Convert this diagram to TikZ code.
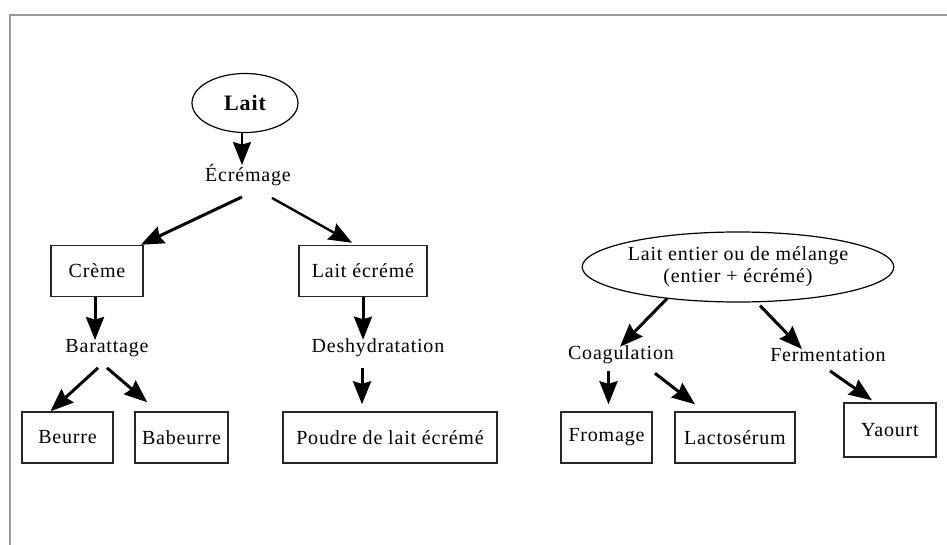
\documentclass[tikz,border=0pt]{standalone}
\usepackage{fontspec}
\setmainfont{Liberation Serif}[LetterSpace=4]
\usetikzlibrary{shapes.geometric,arrows.meta}
\begin{document}
\begin{tikzpicture}[x=1pt,y=-1pt,
  every node/.style={font=\fontsize{20}{24}\selectfont},
  boxn/.style={draw,line width=1.4pt,draw=black!85,inner sep=0pt,minimum height=51pt},
  lbl/.style={inner sep=1pt},
  ovl/.style={draw,ellipse,line width=1.2pt,inner sep=0pt},
  arr/.style={line width=3pt,-{Stealth[length=23pt,width=18pt,inset=2.5pt]}}]
\useasboundingbox (0,0) rectangle (947,545);
\draw[line width=2pt,gray!80] (10,545) -- (10,15) -- (947,15);
% left tree
\node[ovl,minimum width=106pt,minimum height=59pt,font=\fontsize{22}{26}\selectfont\bfseries] (lait) at (245,103) {Lait};
\node[lbl] (ecr) at (248,175) {Écrémage};
\node[boxn,minimum width=92pt] (creme) at (97,271) {Crème};
\node[boxn,minimum width=128pt] (laite) at (363,271) {Lait écrémé};
\node[lbl] (bar) at (107,348) {Barattage};
\node[lbl] (deshy) at (378,348) {Deshydratation};
\node[boxn,minimum width=91pt] (beurre) at (67.5,437.5) {Beurre};
\node[boxn,minimum width=93pt] (babeurre) at (181.5,437.5) {Babeurre};
\node[boxn,minimum width=214pt] (poudre) at (390,437.5) {Poudre de lait écrémé};
% right tree
\node[ovl,minimum width=270pt,minimum height=70pt,align=center,font=\fontsize{20}{22}\selectfont] (ent) at (738,267) {Lait entier ou de mélange\\(entier + écrémé)};
\node[lbl] (coag) at (621,355) {Coagulation};
\node[lbl] (ferm) at (828,355) {Fermentation};
\node[boxn,minimum width=91pt] (fromage) at (606.5,437.5) {Fromage};
\node[boxn,minimum width=120pt] (lacto) at (735,437.5) {Lactosérum};
\node[boxn,minimum width=92pt,minimum height=54pt] (yaourt) at (890,430) {Yaourt};
% arrows
\draw[arr,line width=2.4pt] ([xshift=-3pt]lait.south) -- ([xshift=-6pt,yshift=-2pt]ecr.north);
\draw[arr] ([xshift=-6pt,yshift=-10pt]ecr.south) -- ([xshift=-3pt]creme.north east);
\draw[arr,line width=2.4pt] ([xshift=24pt,yshift=-11pt]ecr.south) -- ([xshift=-11pt,yshift=2pt]laite.north);
\draw[arr] ([xshift=-2pt]creme.south) -- ([xshift=-12pt,yshift=-2pt]bar.north);
\draw[arr] ([xshift=-9pt,yshift=-10pt]bar.south) -- ([xshift=-17pt]beurre.north);
\draw[arr] ([xshift=0pt,yshift=-10pt]bar.south) -- ([xshift=13pt,yshift=9pt]babeurre.north west);
\draw[arr] (laite.south) -- ([xshift=-15pt,yshift=-2pt]deshy.north);
\draw[arr] ([xshift=-16pt,yshift=-10pt]deshy.south) -- ([xshift=-28pt,yshift=7pt]poudre.north);
\draw[arr] ([xshift=-71pt,yshift=4pt]ent.south) -- ([xshift=-1pt,yshift=-2pt]coag.north);
\draw[arr] ([xshift=22pt,yshift=-3pt]ent.south) -- ([xshift=-26pt,yshift=-2pt]ferm.north);
\draw[arr] ([xshift=2pt,yshift=-6pt]fromage.north |- coag.south) -- ([xshift=2pt,yshift=7pt]fromage.north);
\draw[arr] ([xshift=34pt,yshift=-8pt]coag.south) -- ([xshift=-40pt,yshift=7pt]lacto.north);
\draw[arr] ([xshift=2pt,yshift=-8pt]ferm.south) -- ([xshift=-18pt,yshift=2pt]yaourt.north);
\end{tikzpicture}
\end{document}
